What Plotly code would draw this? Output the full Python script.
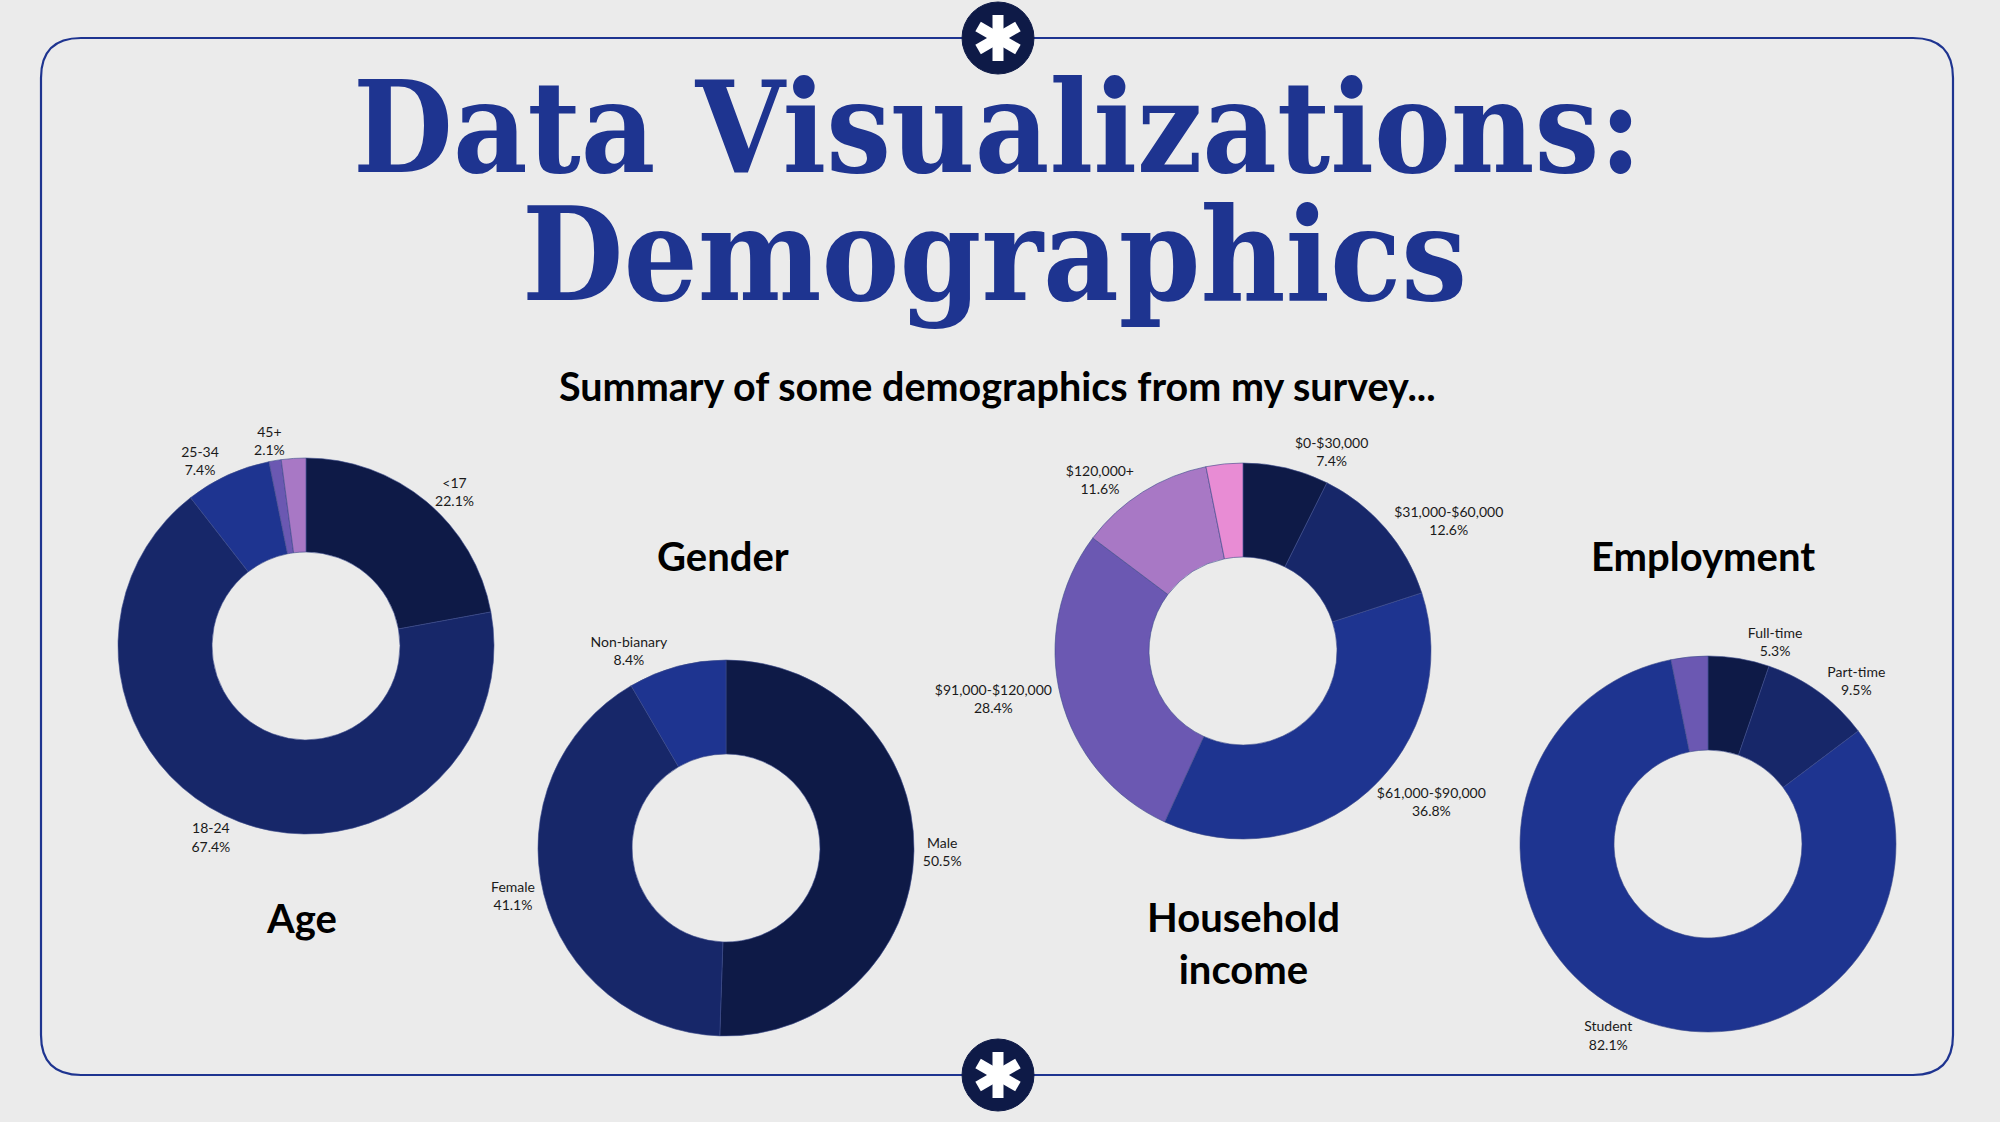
import math
import plotly.graph_objects as go

# ---------------- data ----------------
age_labels = ["<17", "18-24", "25-34", "35-44", "45+"]
age_counts = [21, 64, 7, 1, 2]
age_show = [True, True, True, False, True]

gender_labels = ["Male", "Female", "Non-bianary"]
gender_counts = [48, 39, 8]
gender_show = [True, True, True]

income_labels = ["$0-$30,000", "$31,000-$60,000", "$61,000-$90,000",
                 "$91,000-$120,000", "$120,000+", "Prefer not to say"]
income_counts = [7, 12, 35, 27, 11, 3]
income_show = [True, True, True, True, True, False]

employment_labels = ["Full-time", "Part-time", "Student", "Other"]
employment_counts = [5, 9, 78, 3]
employment_show = [True, True, True, False]

palette = ["#0e1a47", "#172769", "#1e3490", "#6b58b2", "#a878c5", "#e88cd4"]

W, H = 2000, 1122
BG = "#ebebeb"
NAVY = "#1e3490"
DARK = "#0e1a47"
LABEL_FONT = "Lato"

fig = go.Figure()


def donut_trace(labels, counts, show, cx, cy, r, colors, hover=True):
    pos = ["outside" if s else "none" for s in show]
    return go.Pie(
        labels=labels, values=counts, sort=False, direction="clockwise",
        rotation=0, hole=0.5,
        marker=dict(colors=colors, line=dict(width=0.6 if hover else 0, color="#3a4a8a")),
        textposition=pos,
        texttemplate="%{label}<br>%{percent:.1%}",
        textfont=dict(family=LABEL_FONT, size=14, color="#1a1a1a"),
        domain=dict(x=[(cx - r) / W, (cx + r) / W],
                    y=[(H - cy - r) / H, (H - cy + r) / H]),
        showlegend=False, hoverinfo="label+percent" if hover else "skip",
    )


def add_donut(labels, counts, show, cx, cy, r, separate=()):
    main_show = [s and (i not in separate) for i, s in enumerate(show)]
    fig.add_trace(donut_trace(labels, counts, main_show, cx, cy, r, palette[:len(labels)]))
    # labels that would otherwise be nudged (with leader lines) are drawn by a
    # transparent twin of the same donut, so they sit at their natural place
    for k in separate:
        twin_show = [i == k for i in range(len(labels))]
        fig.add_trace(donut_trace(labels, counts, twin_show, cx, cy, r,
                                  ["rgba(0,0,0,0)"] * len(labels), hover=False))


add_donut(age_labels, age_counts, age_show, 306, 646, 188, separate=(4,))
add_donut(gender_labels, gender_counts, gender_show, 726, 848, 188)
add_donut(income_labels, income_counts, income_show, 1243, 651, 188)
add_donut(employment_labels, employment_counts, employment_show, 1708, 844, 188)

# ---------------- decorations ----------------
shapes = []
x0, x1, y0, y1, rc = 41, 1953, 38, 1075, 40
path = (f"M {x0+rc},{y0} L {x1-rc},{y0} Q {x1},{y0} {x1},{y0+rc} "
        f"L {x1},{y1-rc} Q {x1},{y1} {x1-rc},{y1} L {x0+rc},{y1} "
        f"Q {x0},{y1} {x0},{y1-rc} L {x0},{y0+rc} Q {x0},{y0} {x0+rc},{y0} Z")
shapes.append(dict(type="path", path=path, xref="x", yref="y",
                   line=dict(color=NAVY, width=2.2), fillcolor="rgba(0,0,0,0)", layer="below"))

for (ccx, ccy) in [(998, 38), (998, 1075)]:
    rr = 36
    shapes.append(dict(type="circle", xref="x", yref="y",
                       x0=ccx - rr, x1=ccx + rr, y0=ccy - rr, y1=ccy + rr,
                       fillcolor=DARK, line=dict(color=DARK, width=1)))
    arm = 23
    for ang in [90, 30, -30]:
        dx = arm * math.cos(math.radians(ang))
        dy = arm * math.sin(math.radians(ang))
        shapes.append(dict(type="line", xref="x", yref="y",
                           x0=ccx - dx, x1=ccx + dx, y0=ccy - dy, y1=ccy + dy,
                           line=dict(color="white", width=11)))

annotations = []


def txt(t, x, y, size, family, color="#000", weight="bold"):
    annotations.append(dict(text=t, x=x, y=y, xref="x", yref="y", showarrow=False,
                            xanchor="center", yanchor="middle",
                            font=dict(family=family, size=size, color=color, weight=weight)))


TITLE_FONT = "DejaVu Serif Condensed, DejaVu Serif, serif"
txt("Data Visualizations:", 997, 127, 128, TITLE_FONT, NAVY)
txt("Demographics", 994, 254, 130, TITLE_FONT, NAVY)
txt("Summary of some demographics from my survey...", 997, 385, 39.5, "Lato", "#000")
txt("Gender", 723, 556, 40, "Lato")
txt("Age", 301, 918, 40, "Lato")
txt("Household<br>income", 1243, 943, 40, "Lato")
txt("Employment", 1703, 556, 40, "Lato")

fig.update_layout(
    width=W, height=H, margin=dict(l=0, r=0, t=0, b=0),
    paper_bgcolor=BG, plot_bgcolor=BG,
    xaxis=dict(range=[0, W], visible=False, fixedrange=True),
    yaxis=dict(range=[H, 0], visible=False, fixedrange=True),
    shapes=shapes, annotations=annotations,
)

fig.write_html(
    "out.html",
    config={"displayModeBar": False},
    post_script="document.body.style.margin='0';document.body.style.background='#ebebeb';"
                "document.body.style.overflow='hidden';",
)
